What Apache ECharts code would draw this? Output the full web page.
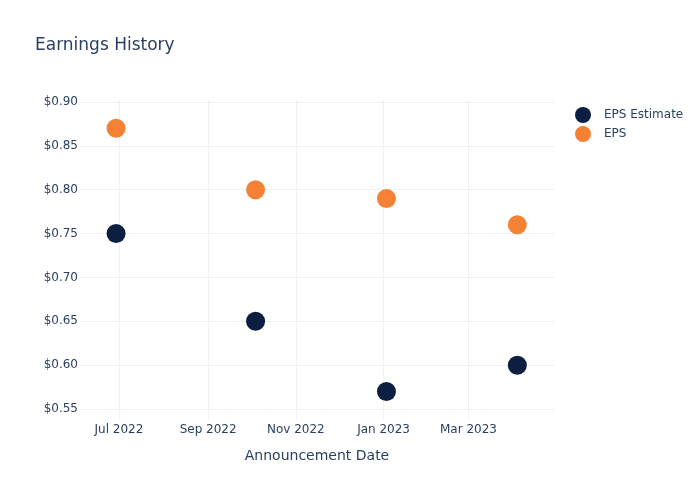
<!DOCTYPE html>
<html><head><meta charset="utf-8">
<script src="https://cdn.jsdelivr.net/npm/echarts@6/dist/echarts.min.js"></script>
<style>html,body{margin:0;padding:0;background:#fff}#c{width:700px;height:500px}</style>
</head><body><div id="c"></div>
<script>
const dates = ['2022-06-29', '2022-10-04', '2023-01-03', '2023-04-04'];
const epsEstimate = [0.75, 0.65, 0.57, 0.60];
const eps = [0.87, 0.80, 0.79, 0.76];
const xTicks = ['2022-07-01', '2022-09-01', '2022-11-01', '2023-01-01', '2023-03-01'];
const yTicks = [0.55, 0.60, 0.65, 0.70, 0.75, 0.80, 0.85, 0.90];
const months = ['Jan','Feb','Mar','Apr','May','Jun','Jul','Aug','Sep','Oct','Nov','Dec'];
const FONT = 'DejaVu Sans';
const TXT = '#2a3f5f';
const GRID = '#edf0f6';
const ts = d => new Date(d + 'T00:00:00').getTime();

const chart = echarts.init(document.getElementById('c'), null, {renderer: 'canvas'});
chart.setOption({
  animation: false,
  backgroundColor: '#fff',
  textStyle: {fontFamily: FONT},
  title: {text: 'Earnings History', left: 30, top: 32,
    textStyle: {fontFamily: FONT, fontSize: 17, fontWeight: 'normal', color: TXT}},
  legend: {orient: 'vertical', left: 570, top: 102, itemGap: 3, itemWidth: 16, itemHeight: 16,
    icon: 'circle', textStyle: {fontFamily: FONT, fontSize: 12, color: TXT, padding: [0, 0, 0, 8]},
    data: ['EPS Estimate', 'EPS']},
  grid: {left: 80, right: 146, top: 100, bottom: 80, containLabel: false},
  xAxis: {
    type: 'value',
    min: new Date('2022-06-03T22:00:00').getTime(),
    max: new Date('2023-04-29T12:00:00').getTime(),
    name: 'Announcement Date', nameLocation: 'middle', nameGap: 29,
    nameTextStyle: {fontFamily: FONT, fontSize: 14, color: TXT},
    axisLine: {show: false},
    axisTick: {show: false, customValues: xTicks.map(ts)},
    axisLabel: {customValues: xTicks.map(ts),
      fontFamily: FONT, fontSize: 12, color: TXT, margin: 4, hideOverlap: false,
      formatter: v => { const d = new Date(v); return months[d.getMonth()] + ' ' + d.getFullYear(); }},
    splitLine: {show: true, lineStyle: {color: GRID, width: 1}}
  },
  yAxis: {
    type: 'value', min: 0.5375, max: 0.9022,
    axisLine: {show: false},
    axisTick: {show: false, customValues: yTicks},
    axisLabel: {customValues: yTicks, fontFamily: FONT, fontSize: 12, color: TXT, margin: 2,
      formatter: v => '$' + v.toFixed(2)},
    splitLine: {show: true, lineStyle: {color: GRID, width: 1}}
  },
  series: [
    {name: 'EPS Estimate', type: 'scatter', symbolSize: 19,
      itemStyle: {color: '#0c1f40', opacity: 1},
      data: dates.map((d, i) => [ts(d), epsEstimate[i]])},
    {name: 'EPS', type: 'scatter', symbolSize: 19,
      itemStyle: {color: '#f58134', opacity: 1},
      data: dates.map((d, i) => [ts(d), eps[i]])}
  ]
});
</script></body></html>
